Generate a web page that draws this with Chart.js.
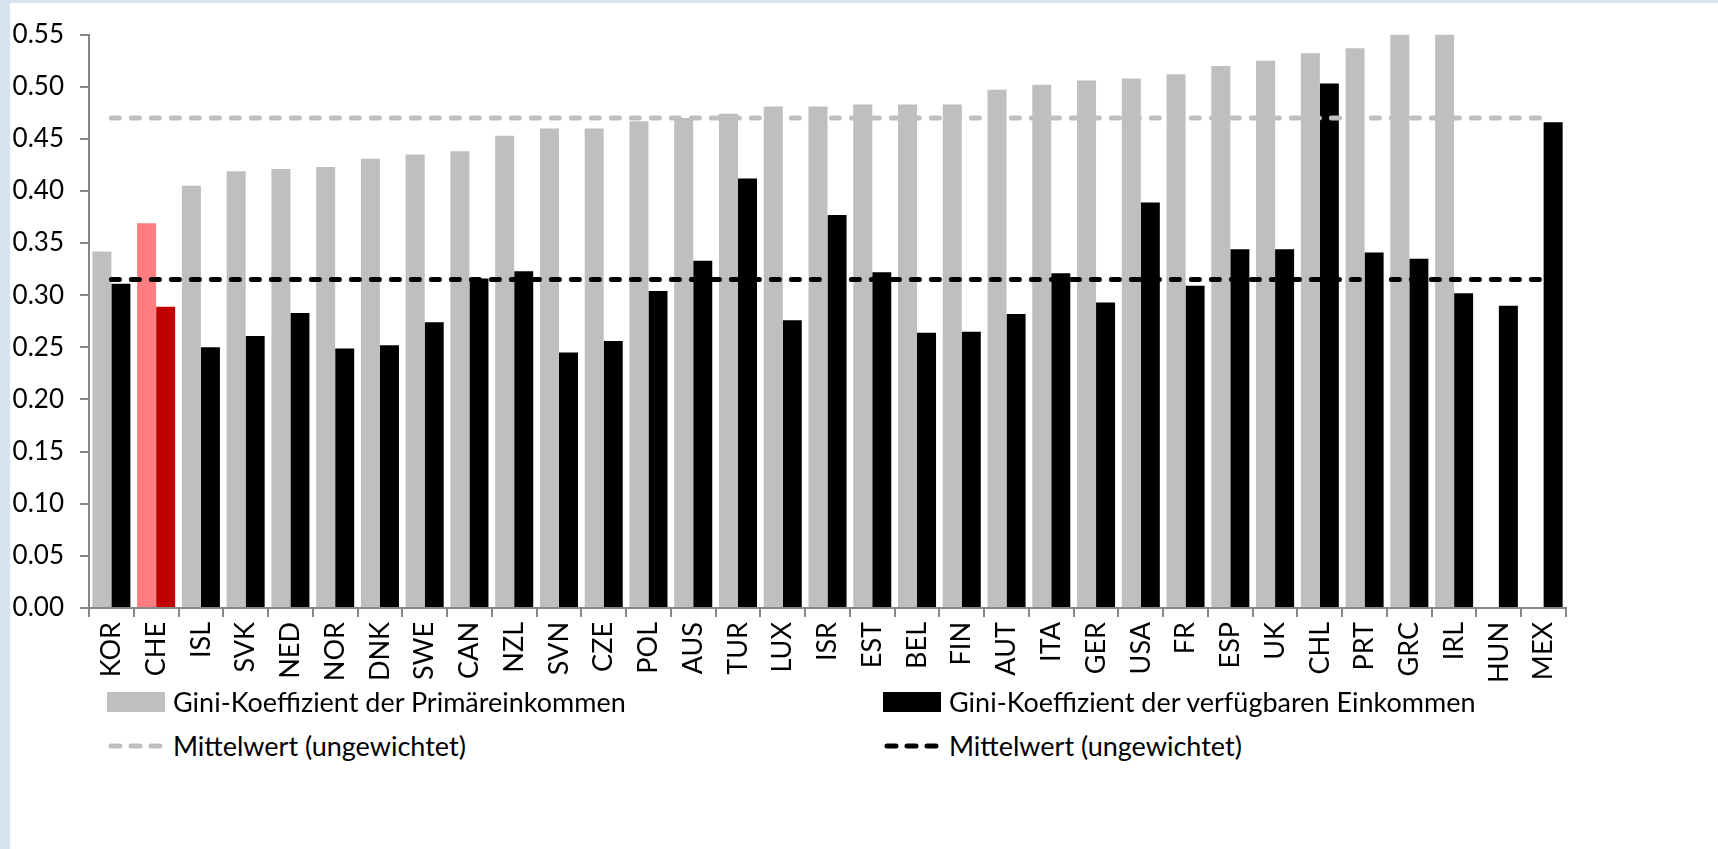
<!DOCTYPE html>
<html>
<head>
<meta charset="utf-8">
<script src="https://cdn.jsdelivr.net/npm/chart.js@4"></script>
<style>
    body { margin: 0; background: #d6e3ee; }
    #frame { position: absolute; left: 10px; top: 3px; width: 1708px; height: 846px; background: #fff; }
    #chart-gini { position: absolute; left: 0; top: 0; }
    .legend { position: absolute; font-family: Lato, sans-serif; font-size: 27px; color: #000; display: flex; align-items: center; }
    .legend .box { width: 58px; height: 20px; margin-right: 8px; }
    .legend svg { margin-right: 8px; }
</style>
</head>
<body>
<div id="frame">
    <canvas id="chart-gini" width="1708" height="690"></canvas>
    <div class="legend" style="left: 97px; top: 682px;"><span class="box" style="background: #bfbfbf;"></span>Gini-Koeffizient der Primäreinkommen</div>
    <div class="legend" style="left: 873px; top: 682px;"><span class="box" style="background: #000;"></span>Gini-Koeffizient der verfügbaren Einkommen</div>
    <div class="legend" style="left: 97px; top: 726px;"><svg width="58" height="10"><line x1="4" y1="5" x2="56" y2="5" stroke="#bfbfbf" stroke-width="5" stroke-linecap="round" stroke-dasharray="9 11"/></svg>Mittelwert (ungewichtet)</div>
    <div class="legend" style="left: 873px; top: 726px;"><svg width="58" height="10"><line x1="4" y1="5" x2="56" y2="5" stroke="#000" stroke-width="5" stroke-linecap="round" stroke-dasharray="9 11"/></svg>Mittelwert (ungewichtet)</div>
</div>
<script>
const countries = ['KOR', 'CHE', 'ISL', 'SVK', 'NED', 'NOR', 'DNK', 'SWE', 'CAN', 'NZL', 'SVN', 'CZE', 'POL', 'AUS', 'TUR', 'LUX', 'ISR',
    'EST', 'BEL', 'FIN', 'AUT', 'ITA', 'GER', 'USA', 'FR', 'ESP', 'UK', 'CHL', 'PRT', 'GRC', 'IRL', 'HUN', 'MEX']
const giniPrimary = [0.342, 0.369, 0.405, 0.419, 0.421, 0.423, 0.431, 0.435, 0.438, 0.453, 0.460, 0.460, 0.467, 0.470, 0.474, 0.481, 0.481,
    0.483, 0.483, 0.483, 0.497, 0.502, 0.506, 0.508, 0.512, 0.520, 0.525, 0.532, 0.537, 0.550, 0.550, null, null]
const giniDisposable = [0.311, 0.289, 0.250, 0.261, 0.283, 0.249, 0.252, 0.274, 0.316, 0.323, 0.245, 0.256, 0.304, 0.333, 0.412, 0.276, 0.377,
    0.322, 0.264, 0.265, 0.282, 0.321, 0.293, 0.389, 0.309, 0.344, 0.344, 0.503, 0.341, 0.335, 0.302, 0.290, 0.466]
const meanPrimary = 0.47
const meanDisposable = 0.315
const yTicks = { min: 0, max: 0.55, step: 0.05 }
const highlight = 'CHE'

function ChartGini() {
    let canvas = document.getElementById('chart-gini')

    new Chart(canvas, {
        data: {
            labels: countries,
            datasets: [
                {
                    type: 'line',
                    label: 'Mittelwert (ungewichtet)',
                    data: countries.map(() => meanPrimary),
                    borderColor: '#bfbfbf',
                    borderWidth: 5,
                    borderDash: [8, 12],
                    borderCapStyle: 'round',
                    pointRadius: 0,
                    order: 0
                },
                {
                    type: 'line',
                    label: 'Mittelwert (ungewichtet)',
                    data: countries.map(() => meanDisposable),
                    borderColor: '#000',
                    borderWidth: 5,
                    borderDash: [8, 12],
                    borderCapStyle: 'round',
                    pointRadius: 0,
                    order: 0
                },
                {
                    type: 'bar',
                    label: 'Gini-Koeffizient der Primäreinkommen',
                    data: giniPrimary,
                    backgroundColor: countries.map(c => c === highlight ? '#ff7c80' : '#bfbfbf'),
                    barPercentage: 1,
                    categoryPercentage: 0.85,
                    order: 1
                },
                {
                    type: 'bar',
                    label: 'Gini-Koeffizient der verfügbaren Einkommen',
                    data: giniDisposable,
                    backgroundColor: countries.map(c => c === highlight ? '#c00000' : '#000'),
                    barPercentage: 1,
                    categoryPercentage: 0.85,
                    order: 1
                }
            ]
        },
        options: {
            responsive: false,
            animation: false,
            layout: {
                padding: { left: 0, top: 29, right: 152, bottom: 0 }
            },
            scales: {
                x: {
                    offset: true,
                    afterFit: scale => { scale.height = 85 },
                    ticks: {
                        color: '#000',
                        font: { family: 'Lato, sans-serif', size: 27 },
                        autoSkip: false,
                        minRotation: 90,
                        maxRotation: 90,
                        padding: 5
                    },
                    border: {
                        display: true,
                        color: '#868686',
                        width: 2
                    },
                    grid: {
                        offset: true,
                        drawOnChartArea: false,
                        drawTicks: true,
                        tickLength: 9,
                        color: '#868686',
                        lineWidth: 2
                    }
                },
                y: {
                    min: yTicks.min,
                    max: yTicks.max,
                    afterFit: scale => { scale.width = 79 },
                    ticks: {
                        stepSize: yTicks.step,
                        color: '#000',
                        font: { family: 'Lato, sans-serif', size: 26 },
                        padding: 16,
                        callback: v => v.toFixed(2)
                    },
                    border: {
                        display: true,
                        color: '#868686',
                        width: 2
                    },
                    grid: {
                        drawOnChartArea: false,
                        drawTicks: true,
                        tickLength: 9,
                        color: '#868686',
                        lineWidth: 2
                    }
                }
            },
            plugins: {
                legend: { display: false },
                tooltip: { enabled: false }
            }
        }
    })
}

ChartGini()
</script>
</body>
</html>
